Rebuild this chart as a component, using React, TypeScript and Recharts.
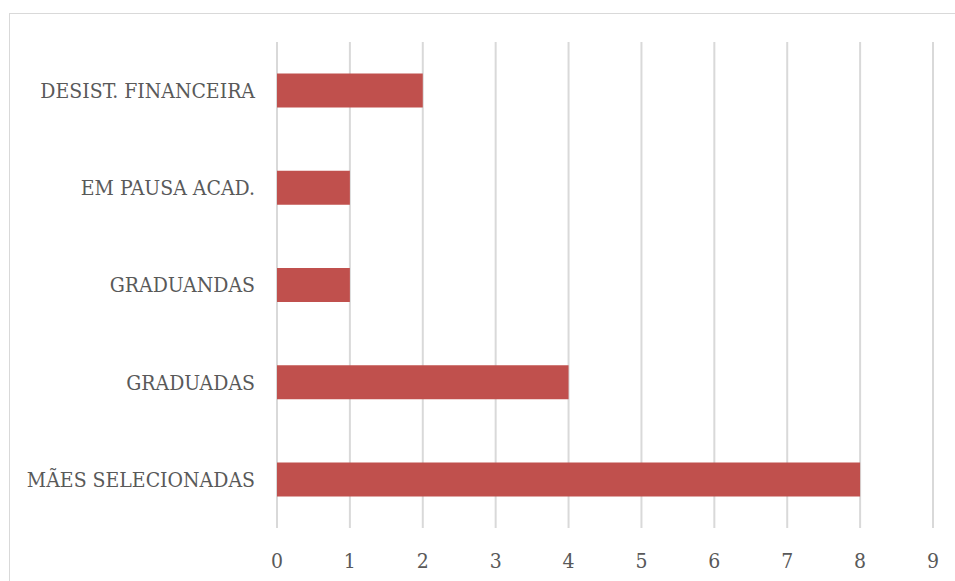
import React from 'react';
import { BarChart, Bar, XAxis, YAxis, CartesianGrid } from 'recharts';

const categories = ['DESIST. FINANCEIRA', 'EM PAUSA ACAD.', 'GRADUANDAS', 'GRADUADAS', 'MÃES SELECIONADAS'];
const counts = [2, 1, 1, 4, 8];
const xTicks = [0, 1, 2, 3, 4, 5, 6, 7, 8, 9];

const data = categories.map((name, i) => ({ name, value: counts[i] }));

const font = '"DejaVu Serif Condensed", "DejaVu Serif", serif';

export default function App() {
  return (
    <div style={{ position: 'absolute', left: 0, top: 0, width: 955, height: 581, overflow: 'hidden', background: '#fff' }}>
      <div style={{ position: 'absolute', left: 9, top: 13, width: 980, height: 620, border: '1px solid #d9d9d9' }} />
      <div style={{ position: 'absolute', left: 0, top: 0 }}>
        <BarChart
          width={955}
          height={581}
          data={data}
          layout="vertical"
          margin={{ top: 42, right: 22, left: 0, bottom: 0 }}
          barCategoryGap="32.5%"
        >
          <CartesianGrid horizontal={false} stroke="#d9d9d9" strokeWidth={2} />
          <XAxis
            type="number"
            domain={[0, 9]}
            ticks={xTicks}
            interval={0}
            height={53}
            axisLine={false}
            tickLine={false}
            tickMargin={19}
            tick={{ fill: '#595959', fontSize: 21, fontFamily: font, fontStretch: 'condensed' }}
          />
          <YAxis
            type="category"
            dataKey="name"
            width={277}
            axisLine={false}
            tickLine={false}
            tickMargin={16}
            tick={{ fill: '#595959', fontSize: 21, fontFamily: font, fontStretch: 'condensed' }}
          />
          <Bar dataKey="value" fill="#c0504d" isAnimationActive={false} />
        </BarChart>
      </div>
    </div>
  );
}
